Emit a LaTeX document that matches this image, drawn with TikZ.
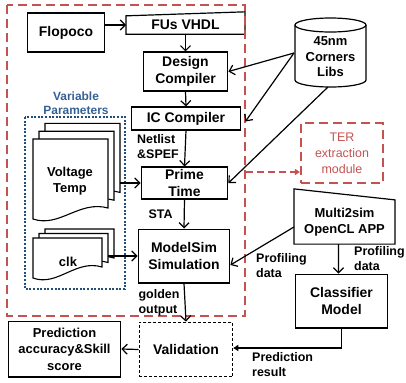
\documentclass[tikz,border=0pt]{standalone}
\usepackage{fontspec}
\setmainfont{Liberation Sans}
\usetikzlibrary{arrows.meta}

\definecolor{terred}{RGB}{196,82,80}
\definecolor{parblue}{RGB}{31,78,121}
\definecolor{partext}{RGB}{54,96,146}

% a sheet with a wavy lower edge: x, y (top left), width, height
\newcommand{\paperdoc}[4]{%
  \filldraw[fill=white, line width=1.1bp] (#1,#2) -- ({#1+#3},#2) -- ({#1+#3},{#2+#4-11})
    .. controls ({#1+0.62*#3},{#2+#4-19}) and ({#1+0.35*#3},{#2+#4+9}) .. (#1,{#2+#4}) -- cycle;}

\tikzset{
  box/.style={draw, line width=1.2bp, inner sep=0pt, align=center,
    font=\bfseries\fontsize{14}{17}\selectfont},
  plain/.style={inner sep=0pt, align=center, font=\bfseries\fontsize{13}{16}\selectfont},
  lbl/.style={inner sep=0pt, align=left, font=\bfseries\fontsize{12.5}{15}\selectfont},
  arr/.style={-{Straight Barb[length=5bp,width=10bp]}, line width=1.2bp},
  reddash/.style={draw=terred, line width=2.4bp, dash pattern=on 9bp off 5bp}
}

\begin{document}
\begin{tikzpicture}[x=1bp, y=-1bp]
  \useasboundingbox (0,0) rectangle (406,383);

  % tool flow boxes
  \node[box, minimum width=78, minimum height=39] (flopoco) at (66,32.5) {Flopoco};
  \node[plain, font=\bfseries\fontsize{14}{17}\selectfont, minimum width=119, minimum height=18] (fus) at (185.5,25) {FUs VHDL};
  \draw[line width=1.2bp] (fus.south west) -- (fus.south east) -- ([yshift=4bp]fus.north east) -- (fus.north west) -- cycle;
  \node[box, minimum width=85, minimum height=39] (design) at (185.5,71.5) {Design\\Compiler};
  \node[box, minimum width=110, minimum height=23] (ic) at (186,118.5) {IC Compiler};
  \node[box, minimum width=87, minimum height=32] (prime) at (184.5,183) {Prime\\Time};
  \node[box, minimum width=92, minimum height=54] (modelsim) at (184,256) {ModelSim\\Simulation};
  \node[box, dashed, line width=0.9bp, dash pattern=on 3bp off 2bp, minimum width=94, minimum height=55] (valid) at (186,349.5) {Validation};
  \node[box, font=\bfseries\fontsize{13}{16.5}\selectfont, minimum width=113, minimum height=56] (predacc) at (64.5,349) {Prediction\\accuracy\&Skill\\score};
  \node[box, minimum width=93, minimum height=54] (classifier) at (341.5,301) {Classifier\\Model};
  \node[plain, minimum width=101, minimum height=44] (m2s) at (344.5,222) {Multi2sim\\OpenCL APP};
  \draw[line width=1.2bp] (m2s.south west) -- (m2s.south east) -- (m2s.north east) -- ([yshift=11bp]m2s.north west) -- cycle;

  % corner libraries
  \draw[line width=1.2bp, fill=white] (295,25) -- (295,80) arc[start angle=180, end angle=0, x radius=35.5, y radius=7] -- (366,25);
  \draw[line width=1.2bp] (330.5,25) ellipse [x radius=35.5, y radius=7];
  \node[plain, font=\bfseries\fontsize{13}{15.5}\selectfont] (libs) at (330.5,57) {45nm\\Corners\\Libs};
  \coordinate (libL) at (294,53);
  \coordinate (libB) at (328,87);

  % variable parameters
  \node[inner sep=0pt, align=center, text=partext, font=\bfseries\fontsize{12}{13.5}\selectfont] (vartitle) at (76,103) {Variable\\Parameters};
  \draw[draw=parblue, line width=2bp, dash pattern=on 2bp off 1.6bp] (25,117) rectangle (125,289);
  \foreach \k in {2,1,0} {
    \paperdoc{33+6*\k}{139-7.8*\k}{75}{80}
  }
  \foreach \k in {2,1,0} {
    \paperdoc{33+6*\k}{238-4.5*\k}{69}{40}
  }
  \node[plain] (volt) at (70,181) {Voltage\\Temp};
  \node[plain] (clk) at (68,262) {clk};
  \coordinate (voltR) at (120,183);
  \coordinate (clkR) at (108,256);

  % TER module
  \node[draw=terred, line width=2.4bp, dash pattern=on 9bp off 5bp, text=terred, inner sep=0pt, align=center,
    font=\fontsize{12.5}{16}\selectfont, minimum width=82, minimum height=60] (ter) at (342,153) {TER\\extraction\\module};
  \draw[reddash] (7,5) rectangle (245,316);
  \coordinate (terin) at (246,172);

  % connections
  \draw[arr] (flopoco.east |- fus.west) -- (fus.west);
  \draw[arr] (fus.south) -- (design.north);
  \draw[arr] (design.south) -- (ic.north);
  \draw[arr] (ic.south) -- node[lbl, left=6bp, pos=0.45] {Netlist\\\&SPEF} (prime.north);
  \draw[arr] (prime.south) -- node[lbl, left=11bp] {STA} (modelsim.north);
  \draw[arr] (modelsim.south) -- node[lbl, left=5bp] {golden\\output} (valid.north);
  \draw[arr] (valid.west) -- (predacc.east);
  \draw[arr] (libL) -- (design.east);
  \draw[arr] (libL) -- ([xshift=4bp,yshift=-3bp]ic.east);
  \draw[arr] (libB) -- (prime.east);
  \draw[arr] (voltR) -- (prime.west);
  \draw[arr] (clkR) -- (modelsim.west);
  \draw[arr] ([yshift=-5bp]m2s.west) -- ([yshift=-9bp]modelsim.east);
  \draw[arr] ([xshift=-6bp]m2s.south) -- ([xshift=-3bp]classifier.north);
  \draw[-{Triangle[length=5bp,width=6bp]}, line width=1.2bp] (classifier.south) |- ([yshift=1.5bp]valid.east);
  \draw[reddash, dash pattern=on 7bp off 4bp, -{Triangle[length=5bp,width=6bp]}] (terin) -- (ter.west |- terin);

  % edge labels
  \node[lbl, anchor=west] (prof1) at (256,265.5) {Profiling\\data};
  \node[lbl, anchor=west] (prof2) at (354,259) {Profiling\\data};
  \node[lbl, anchor=west] (predres) at (252,364.5) {Prediction\\result};
\end{tikzpicture}
\end{document}
